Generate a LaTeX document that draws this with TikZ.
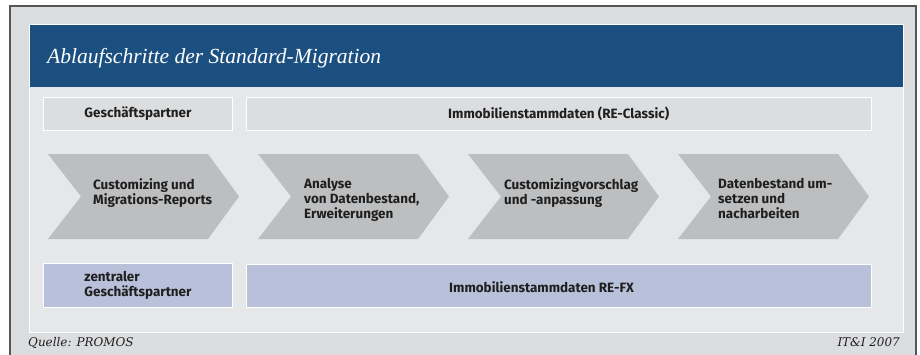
\documentclass[tikz,border=0pt]{standalone}
\usepackage{fontspec}
\setmainfont{Liberation Serif}
\newfontfamily\labelfont{Fira Sans}
\newfontfamily\footfont{DejaVu Serif}
\definecolor{framegray}{HTML}{555555}
\definecolor{outerbg}{HTML}{DCDDDF}
\definecolor{innerbg}{HTML}{E6E7E9}
\definecolor{headerblue}{HTML}{1B4F80}
\definecolor{rowgray}{HTML}{DCDDDF}
\definecolor{stepgray}{HTML}{BDBEC0}
\definecolor{rowlilac}{HTML}{B8C0DA}
\definecolor{labeltext}{HTML}{1F1F1F}
\begin{document}
\begin{tikzpicture}[x=1bp,y=-1bp,
  rowbox/.style={draw=white, line width=1bp, inner sep=0pt, anchor=center},
  lbl/.style={text=labeltext, inner sep=0pt, font=\labelfont\bfseries\fontsize{13.5}{15}\selectfont},
  steparrow/.style={fill=stepgray},
  foot/.style={text=labeltext, inner sep=0pt, font=\footfont\itshape\fontsize{12}{14}\selectfont}]
\useasboundingbox (0,0) rectangle (920,354);
\fill[white] (0,0) rectangle (920,354);
% outer frame, open at the lower edge of the page
\begin{scope}
  \clip (0,0) rectangle (920,354);
  \draw[framegray, fill=outerbg, line width=2bp] (10,6) rectangle (916,380);
\end{scope}
% inner panel and title bar
\draw[white, fill=innerbg, line width=1bp] (29,24) rectangle (903,332);
\fill[headerblue] (29.5,24.5) rectangle (902.5,87);
\node[anchor=base west, inner sep=0pt, text=white,
      font=\itshape\fontsize{21.6}{24}\selectfont] (title) at (47,63)
      {Ablaufschritte der Standard-Migration};

% upper data rows
\node[rowbox, fill=rowgray, minimum width=188bp, minimum height=33bp] (gp) at (138,113.5) {};
\node[rowbox, fill=rowgray, minimum width=624bp, minimum height=33bp] (reclassic) at (559,113.5) {};
\node[lbl] (gplabel) at (gp.center) {Geschäftspartner};
\node[lbl, anchor=west] (reclassiclabel) at (448,114) {Immobilienstammdaten (RE-Classic)};

% process steps
\foreach \i in {0,1,2,3}{
  \pgfmathsetmacro{\L}{48+210*\i}
  \fill[steparrow] (\L,154) -- ++(160,0) -- ++(31,42.5) -- ++(-31,42.5)
    -- ++(-160,0) -- ++(33,-42.5) -- cycle;
}
\node[lbl, align=left, anchor=north west] (s1) at (93,178.5) {Customizing und\\Migrations-Reports};
\node[lbl, align=left, anchor=north west] (s2) at (304,178.5) {Analyse\\von Datenbestand,\\Erweiterungen};
\node[lbl, align=left, anchor=north west] (s3) at (504,178.5) {Customizingvorschlag\\und -anpassung};
\node[lbl, align=left, anchor=north west] (s4) at (718,178.5) {Datenbestand um-\\setzen und\\nacharbeiten};

% lower data rows
\node[rowbox, fill=rowlilac, minimum width=188bp, minimum height=44bp] (zgp) at (138,285) {};
\node[rowbox, fill=rowlilac, minimum width=624bp, minimum height=43bp] (refx) at (559,285.5) {};
\node[lbl, align=left] (zgplabel) at (zgp.center) {zentraler\\Geschäftspartner};
\node[lbl, anchor=west] (refxlabel) at (449,287) {Immobilienstammdaten RE-FX};

% footer
\node[foot, anchor=base west] (source) at (28,346) {Quelle: PROMOS};
\node[foot, anchor=base east] (year) at (900,346) {IT\&I 2007};
\end{tikzpicture}
\end{document}
